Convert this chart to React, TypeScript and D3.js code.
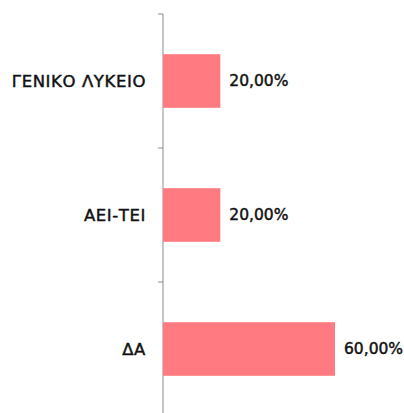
import * as d3 from "d3";

const categories = ["ΓΕΝΙΚΟ ΛΥΚΕΙΟ", "ΑΕΙ-ΤΕΙ", "ΔΑ"];
const values = [0.2, 0.2, 0.6];
const valueLabels = ["20,00%", "20,00%", "60,00%"];

const width = 404;
const height = 413;
const axisX = 163;

export default function App() {
  const y = d3
    .scaleBand<string>()
    .domain(categories)
    .range([14, 416])
    .paddingInner(0.6)
    .paddingOuter(0.3);

  const x = d3.scaleLinear().domain([0, 0.6]).range([axisX, 335]);

  const step = y.step();
  const tickYs = d3.range(categories.length + 1).map((i) => 14 + i * step);

  return (
    <svg
      width={width}
      height={height}
      style={{ position: "absolute", left: 0, top: 0, background: "#fff" }}
      fontFamily="'DejaVu Sans', sans-serif"
    >
      <line x1={axisX} x2={axisX} y1={14} y2={height} stroke="#8c8c8c" strokeWidth={1} />
      {tickYs.map((t, i) => (
        <line key={i} x1={axisX - 5} x2={axisX} y1={t} y2={t} stroke="#8c8c8c" strokeWidth={1} />
      ))}
      {categories.map((c, i) => {
        const yc = (y(c) ?? 0) + y.bandwidth() / 2;
        return (
          <g key={c}>
            <rect
              x={x(0)}
              y={y(c)}
              width={x(values[i]) - x(0)}
              height={y.bandwidth()}
              fill="#ff7a81"
            />
            <text
              x={146}
              y={yc}
              textAnchor="end"
              dominantBaseline="central"
              fontSize={16.5}
              letterSpacing={0.6}
              fill="#111"
              stroke="#111"
              strokeWidth={0.45}
            >
              {c}
            </text>
            <text
              x={x(values[i]) + 9}
              y={yc}
              dominantBaseline="central"
              fontSize={15.5}
              fill="#111"
              stroke="#111"
              strokeWidth={0.45}
            >
              {valueLabels[i]}
            </text>
          </g>
        );
      })}
    </svg>
  );
}
